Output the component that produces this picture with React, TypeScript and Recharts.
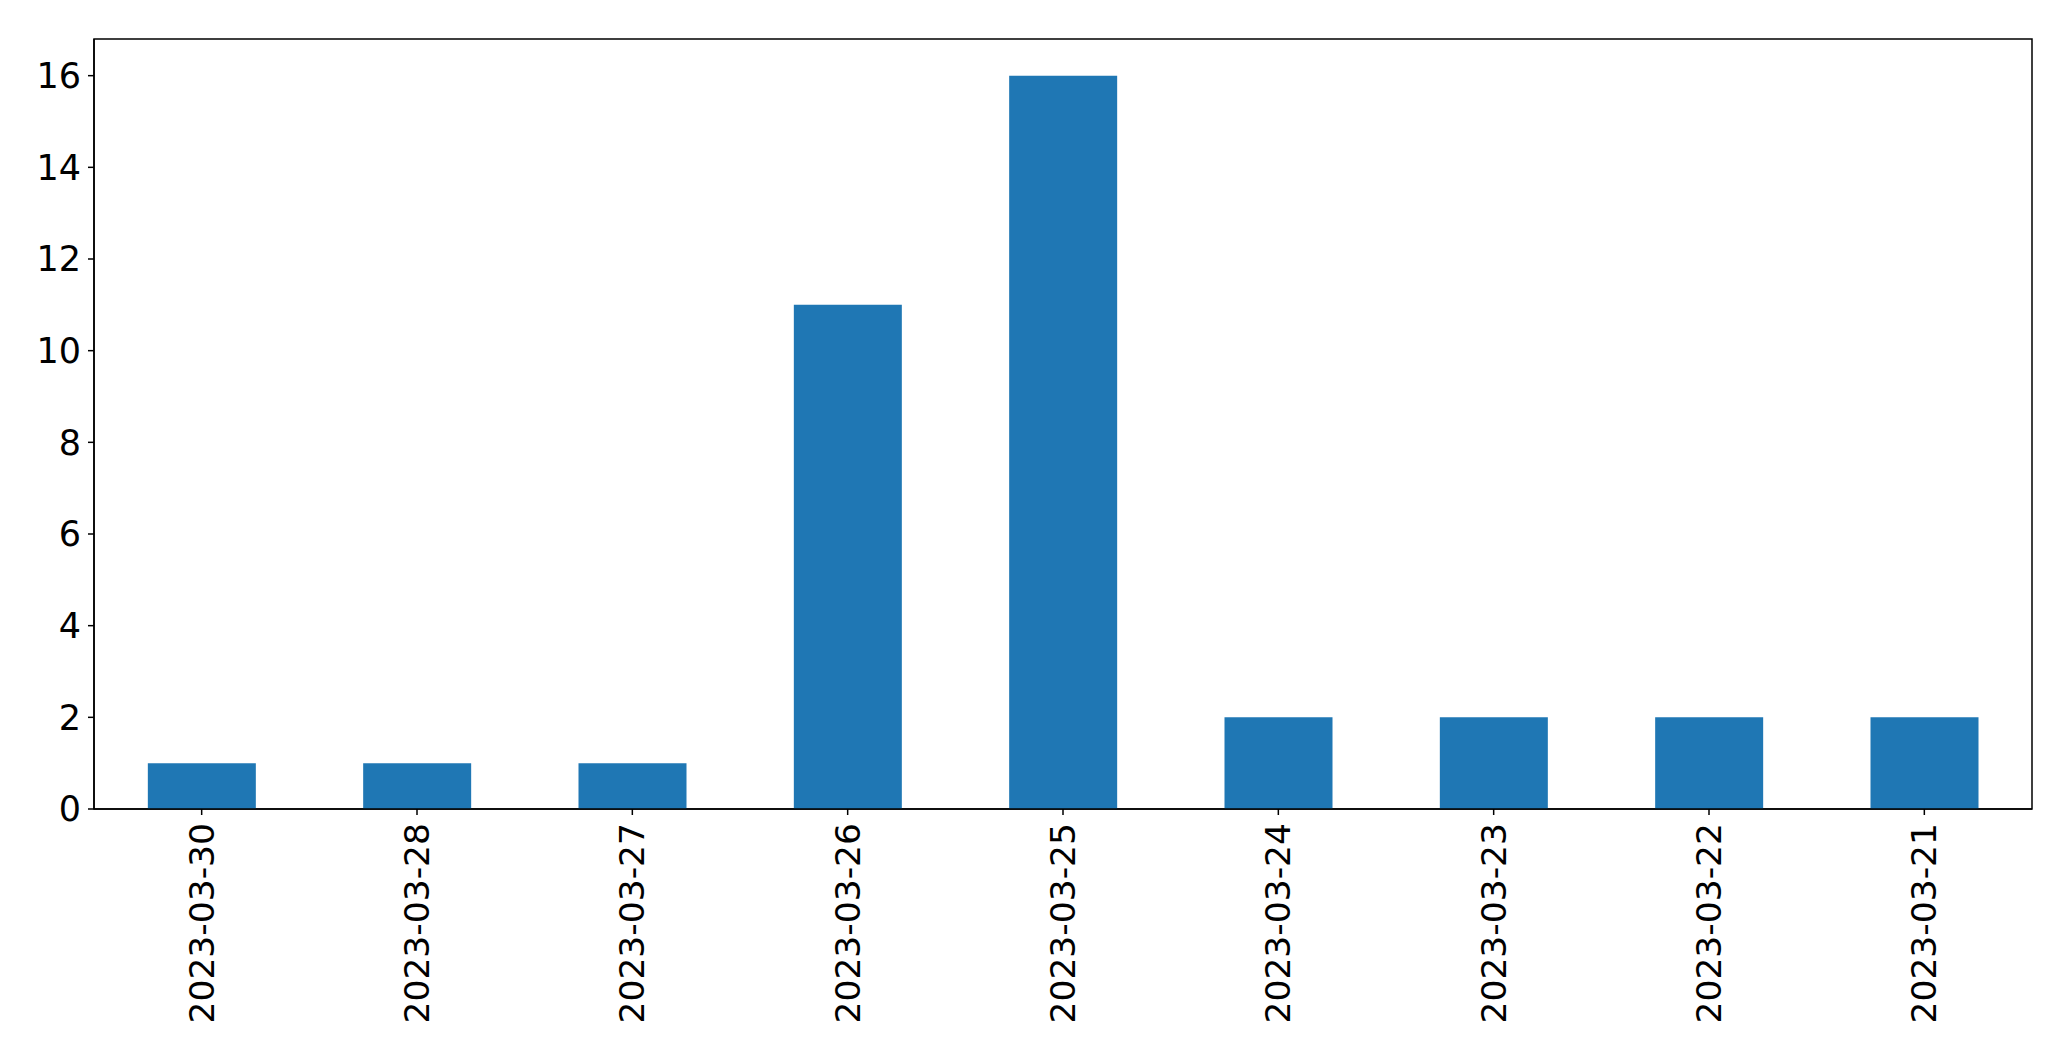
import { BarChart, Bar, XAxis, YAxis, ReferenceArea } from "recharts"

const dates = [
  "2023-03-30",
  "2023-03-28",
  "2023-03-27",
  "2023-03-26",
  "2023-03-25",
  "2023-03-24",
  "2023-03-23",
  "2023-03-22",
  "2023-03-21",
]
const counts = [1, 1, 1, 11, 16, 2, 2, 2, 2]
const yTicks = [0, 2, 4, 6, 8, 10, 12, 14, 16]

const data = dates.map((d, i) => ({ date: d, count: counts[i] }))

const font = "'DejaVu Sans', sans-serif"

function DateTick(props: any) {
  const { x, y, payload } = props
  return (
    <text
      x={x}
      y={y + 6}
      transform={`rotate(-90, ${x}, ${y + 6})`}
      textAnchor="end"
      dominantBaseline="central"
      fontSize={34.5}
      fontFamily={font}
      fill="#000"
    >
      {payload.value}
    </text>
  )
}

export default function App() {
  return (
    <div style={{ position: "absolute", left: 0, top: 0, width: 2071, height: 1061, background: "#fff" }}>
      <BarChart
        width={2071}
        height={1061}
        data={data}
        margin={{ top: 39, right: 39, bottom: 12, left: 4 }}
        barCategoryGap="25%"
      >
        <XAxis
          dataKey="date"
          height={240}
          interval={0}
          tickSize={6}
          stroke="#000"
          strokeWidth={1.5}
          tickLine={{ stroke: "#000", strokeWidth: 1.5 }}
          tick={<DateTick />}
        />
        <YAxis
          width={90}
          domain={[0, 16.8]}
          ticks={yTicks}
          tickSize={6}
          tickMargin={7}
          stroke="#000"
          strokeWidth={1.5}
          tickLine={{ stroke: "#000", strokeWidth: 1.5 }}
          tick={{ fill: "#000", fontSize: 35, fontFamily: font }}
        />
        <ReferenceArea y1={0} y2={16.8} fill="none" stroke="#000" strokeWidth={1.5} />
        <Bar dataKey="count" fill="#1f77b4" isAnimationActive={false} />
      </BarChart>
    </div>
  )
}
